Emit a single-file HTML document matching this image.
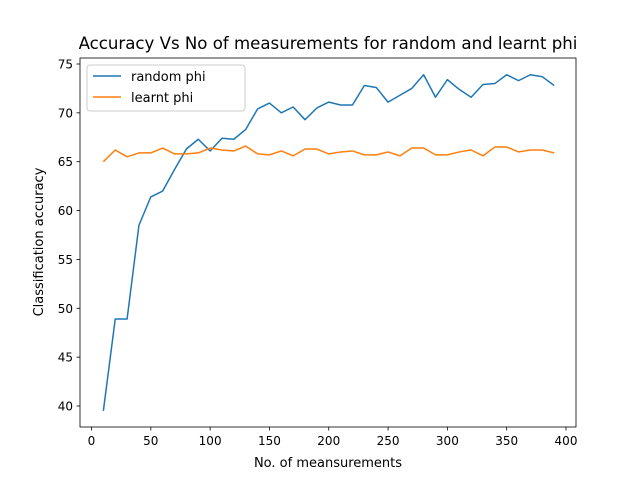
<!DOCTYPE html>
<html><head><meta charset="utf-8"><style>
body{margin:0;background:#fff;}
svg text{font-family:"DejaVu Sans","Liberation Sans",sans-serif;fill:#000;}
</style></head><body>
<svg id="chart" width="640" height="480">
<rect width="640" height="480" fill="#fff"/>
<text x="328" y="49" font-size="16.6" text-anchor="middle">Accuracy Vs No of measurements for random and learnt phi</text>
<g id="axes"></g>
<rect x="80" y="58" width="496" height="369" fill="none" stroke="#000" stroke-width="0.8"/>
<text x="328" y="467" font-size="13" text-anchor="middle">No. of meansurements</text>
<text transform="translate(43,242) rotate(-90)" font-size="13" text-anchor="middle">Classification accuracy</text>
<g>
<rect x="87" y="65" width="158" height="46" rx="3" fill="#fff" stroke="#ccc"/>
<line x1="93" y1="76" x2="121" y2="76" stroke="#1f77b4" stroke-width="1.5"/>
<text x="131" y="81" font-size="13">random phi</text>
<line x1="93" y1="97" x2="121" y2="97" stroke="#ff7f0e" stroke-width="1.5"/>
<text x="131" y="102" font-size="13">learnt phi</text>
</g>
</svg>
<script>
const xValues=[10,20,30,40,50,60,70,80,90,100,110,120,130,140,150,160,170,180,190,200,210,220,230,240,250,260,270,280,290,300,310,320,330,340,350,360,370,380,390];
const randomPhi=[39.5,48.9,48.9,58.5,61.4,62.0,64.2,66.3,67.3,66.1,67.4,67.3,68.3,70.4,71.0,70.0,70.6,69.3,70.5,71.1,70.8,70.8,72.8,72.6,71.1,71.8,72.5,73.9,71.6,73.4,72.4,71.6,72.9,73.0,73.9,73.3,73.9,73.7,72.8];
const learntPhi=[65.0,66.2,65.5,65.9,65.9,66.4,65.8,65.8,65.9,66.4,66.2,66.1,66.6,65.8,65.7,66.1,65.6,66.3,66.3,65.8,66.0,66.1,65.7,65.7,66.0,65.6,66.4,66.4,65.7,65.7,66.0,66.2,65.6,66.5,66.5,66.0,66.2,66.2,65.9];
const xTicks=[0,50,100,150,200,250,300,350,400];
const yTicks=[40,45,50,55,60,65,70,75];
const NS="http://www.w3.org/2000/svg";
const xs=v=>91.5+v*(566-91.5)/400;
const ys=v=>64+(75-v)*(406-64)/35;
const g=document.getElementById('axes');
function mk(t,a){const e=document.createElementNS(NS,t);for(const k in a)e.setAttribute(k,a[k]);g.appendChild(e);return e;}
xTicks.forEach(t=>{
 const l=mk('line',{x1:xs(t),x2:xs(t),y1:427,y2:430.5,stroke:'#000','stroke-width':0.8});
 
 
 const tx=mk('text',{x:xs(t),y:445,'font-size':12,'text-anchor':'middle'});tx.textContent=t;
 
 
});
yTicks.forEach(t=>{
 const l=mk('line',{x1:76.5,x2:80,y1:ys(t),y2:ys(t),stroke:'#000','stroke-width':0.8});
 
 
 const tx=mk('text',{x:73,y:ys(t)+4.5,'font-size':12,'text-anchor':'end'});tx.textContent=t;
 
 
});
function line(vals,color,name){
 const p=mk('polyline',{points:vals.map((v,i)=>xs(xValues[i])+','+ys(v)).join(' '),fill:'none',stroke:color,'stroke-width':1.5,'stroke-linejoin':'round'});
 
 
}
line(randomPhi,'#1f77b4','random-phi-line');
line(learntPhi,'#ff7f0e','learnt-phi-line');
</script>
</body></html>
